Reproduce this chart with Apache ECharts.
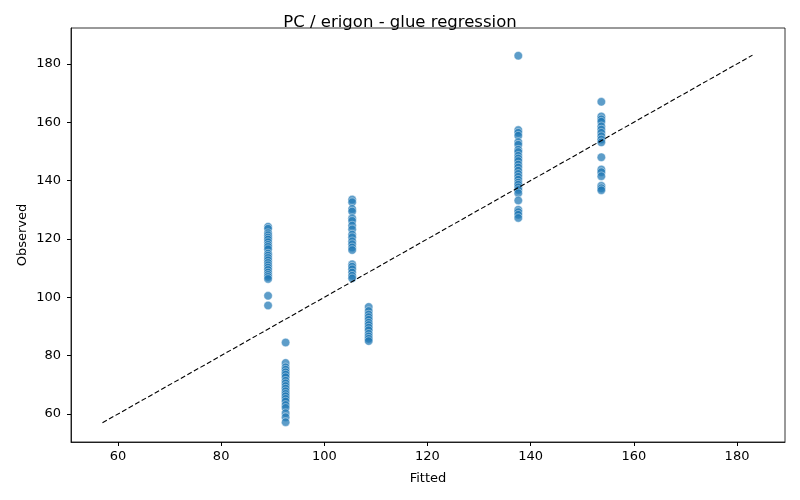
<!DOCTYPE html>
<html>
<head>
<meta charset="utf-8">
<script src="https://cdn.jsdelivr.net/npm/echarts@6/dist/echarts.min.js"></script>
<style>
  html, body { margin: 0; padding: 0; background: #fff; }
  #chart { width: 800px; height: 500px; }
</style>
</head>
<body>
<div id="chart"></div>
<script>
// fitted values (one per group) and observed values per group
var fittedLevels = [89.1, 92.5, 105.4, 108.6, 137.6, 153.7];
var obs89 = [124.2, 123.5, 122.0, 121.3, 120.5, 119.8, 118.9, 118.0, 117.3, 116.5, 115.0, 114.3,
  113.5, 112.7, 111.8, 111.0, 110.2, 109.4, 108.5, 107.7, 107.0, 106.3, 100.5, 97.2];
var obs92 = [84.5, 77.5, 76.0, 75.2, 74.3, 73.5, 72.6, 71.4, 70.5, 69.6, 68.7, 67.8, 66.9,
  66.1, 65.2, 64.3, 63.1, 62.1, 60.3, 58.9, 57.2];
var obs105 = [133.5, 132.6, 130.3, 129.4, 127.1, 126.2, 124.6, 123.3, 121.5, 120.6, 119.2,
  118.2, 117.1, 116.2, 111.3, 110.5, 109.6, 108.5, 107.4, 106.5];
var obs108 = [96.7, 95.3, 94.1, 93.2, 92.3, 91.3, 90.5, 89.6, 88.7, 87.5, 86.6, 85.8, 85.0];
var obs137 = [182.8, 157.3, 156.4, 155.4, 153.2, 152.3, 150.6, 149.8, 148.5, 147.6, 146.7,
  145.5, 144.5, 143.4, 142.3, 141.3, 140.3, 139.3, 138.6, 137.7, 136.8, 135.7, 133.2, 130.0,
  129.2, 128.3, 127.2];
var obs153 = [167.0, 162.0, 161.0, 160.2, 158.6, 157.5, 156.4, 155.2, 154.1, 153.1, 148.0,
  143.8, 142.9, 141.5, 138.2, 137.4, 136.7];
var identityLine = [57, 183];

var groups = [obs89, obs92, obs105, obs108, obs137, obs153];
var points = [];
groups.forEach(function (g, i) {
  g.forEach(function (v) { points.push([fittedLevels[i], v]); });
});

var myChart = echarts.init(document.getElementById('chart'));

var font = 'DejaVu Sans';
var option = {
  backgroundColor: '#fff',
  animation: false,
  title: {
    text: 'PC / erigon - glue regression',
    left: 'center',
    top: 9,
    textStyle: { fontFamily: font, fontSize: 16.5, fontWeight: 'normal', color: '#000' }
  },
  grid: {
    left: 71, right: 15, top: 28, bottom: 58,
    show: true, borderColor: '#000', borderWidth: 0.8
  },
  xAxis: {
    type: 'value',
    min: 50.9, max: 189.3, splitNumber: 7,
    name: 'Fitted', nameLocation: 'middle', nameGap: 30,
    nameTextStyle: { fontFamily: font, fontSize: 13, color: '#000' },
    axisLine: { show: true, lineStyle: { color: '#000', width: 0.8 } },
    axisTick: { show: true, length: 4, lineStyle: { color: '#000' } },
    axisLabel: { fontFamily: font, fontSize: 13, color: '#000', margin: 8, showMinLabel: false, showMaxLabel: false },
    splitLine: { show: false }
  },
  yAxis: {
    type: 'value',
    min: 50.4, max: 192.3, splitNumber: 7,
    name: 'Observed', nameLocation: 'middle', nameGap: 42, nameMoveOverlap: false,
    nameTextStyle: { fontFamily: font, fontSize: 13, color: '#000' },
    axisLine: { show: true, lineStyle: { color: '#000', width: 0.8 } },
    axisTick: { show: true, length: 4, lineStyle: { color: '#000' } },
    axisLabel: { fontFamily: font, fontSize: 13, color: '#000', margin: 10, showMinLabel: false, showMaxLabel: false },
    splitLine: { show: false }
  },
  series: [
    {
      type: 'scatter',
      data: points,
      symbolSize: 8.5,
      itemStyle: { color: '#1f77b4', opacity: 0.72, borderColor: '#fff', borderWidth: 0.6 },
      z: 2
    },
    {
      type: 'line',
      data: [[identityLine[0], identityLine[0]], [identityLine[1], identityLine[1]]],
      symbol: 'none',
      lineStyle: { color: '#000', width: 1.1, type: [5, 2.5] },
      z: 3
    }
  ]
};

myChart.setOption(option);
</script>
</body>
</html>
